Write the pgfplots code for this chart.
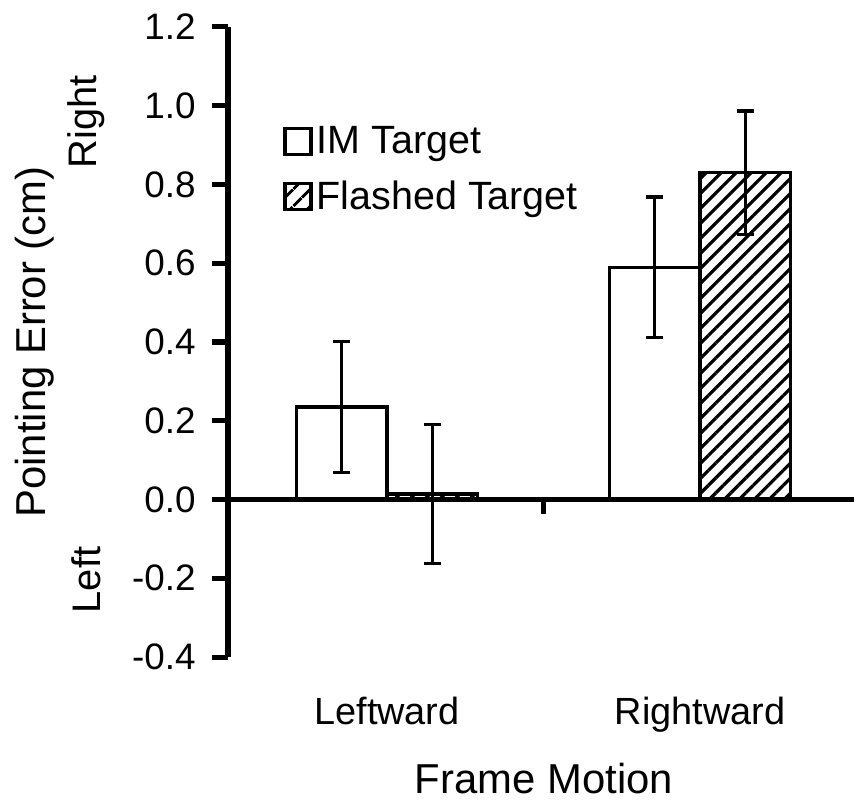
\documentclass[border=0pt]{standalone}
\usepackage{pgfplots}
\pgfplotsset{compat=1.18}
\usepackage{fontspec}
\setmainfont{Liberation Sans}
\usetikzlibrary{patterns.meta}

\begin{document}
\begin{tikzpicture}
\begin{axis}[
  at={(0,0)}, anchor=south west,
  scale only axis, width=313bp, height=315bp,
  xmin=-0.508, xmax=1.492, ymin=-0.4, ymax=1.2,
  axis lines*=left,
  x axis line style={draw=none},
  y axis line style={line width=2.7bp},
  xtick={0,1}, xticklabels={Leftward,Rightward},
  xtick style={draw=none},
  xticklabel style={anchor=base, yshift=-25.5bp, font=\fontsize{19}{22}\selectfont},
  ytick={-0.4,-0.2,0,0.2,0.4,0.6,0.8,1.0,1.2},
  yticklabels={-0.4,-0.2,0.0,0.2,0.4,0.6,0.8,1.0,1.2},
  tick align=outside, major tick length=8bp,
  every tick/.style={black, line width=2.5bp},
  every major y tick/.style={black, line width=2.5bp},
  yticklabel style={inner sep=0pt, xshift=-8bp, font=\fontsize{18.5}{21}\selectfont},
  xlabel={Frame Motion},
  ylabel={Pointing Error (cm)},
  label style={font=\fontsize{21}{25}\selectfont},
  xlabel style={at={(axis description cs:0,0)}, anchor=center, xshift=158bp, yshift=-61bp},
  ylabel style={at={(axis description cs:0,0.5)}, anchor=center, yshift=96.5bp},
  ybar,
  legend style={at={(rel axis cs:0.088,0.849)}, anchor=north west, draw=none, fill=none,
    font=\fontsize{19.8}{23}\selectfont, row sep=8bp, inner sep=0pt},
  legend cell align=left,
  clip=false,
]
\addplot[bar width=0.29, bar shift=-0.145, draw=black, fill=white, line width=1.65bp,
  legend image code/.code={\draw[draw=black, fill=white, line width=1.65bp] (0bp,-6.5bp) rectangle (13bp,6.5bp);},
  error bars/.cd, y dir=both, y explicit,
  error bar style={line width=1.65bp, black},
  error mark options={rotate=90, mark size=4.2bp, line width=1.65bp, black}]
  coordinates {(0,0.235) +- (0,0.167) (1,0.59) +- (0,0.178)};
\addplot[bar width=0.29, bar shift=0.145, draw=black, line width=1.65bp,
  pattern={Lines[angle=45, distance=5.3bp, line width=1.6bp]},
  legend image code/.code={\draw[draw=black, line width=1.65bp, pattern={Lines[angle=45, distance=6bp, line width=1.6bp]}] (0bp,-6.5bp) rectangle (13bp,6.5bp);},
  error bars/.cd, y dir=both, y explicit,
  error bar style={line width=1.65bp, black},
  error mark options={rotate=90, mark size=4.2bp, line width=1.65bp, black}]
  coordinates {(0,0.014) +- (0,0.177) (1,0.83) +- (0,0.157)};
\legend{IM Target, Flashed Target}
\draw[line width=2.8bp] (axis cs:-0.508,0) -- (axis cs:1.492,0);
\draw[line width=2.5bp] (axis cs:0.5,0) -- ([yshift=-7bp]axis cs:0.5,0);
\end{axis}
\node[rotate=90, font=\fontsize{20}{24}\selectfont] at (-71bp,267.5bp) {Right};
\node[rotate=90, font=\fontsize{20}{24}\selectfont] at (-71bp,38.5bp) {Left};
\pgfresetboundingbox
\path (-114bp,-73.5bp) rectangle (313bp,328.5bp);
\end{tikzpicture}
\end{document}
